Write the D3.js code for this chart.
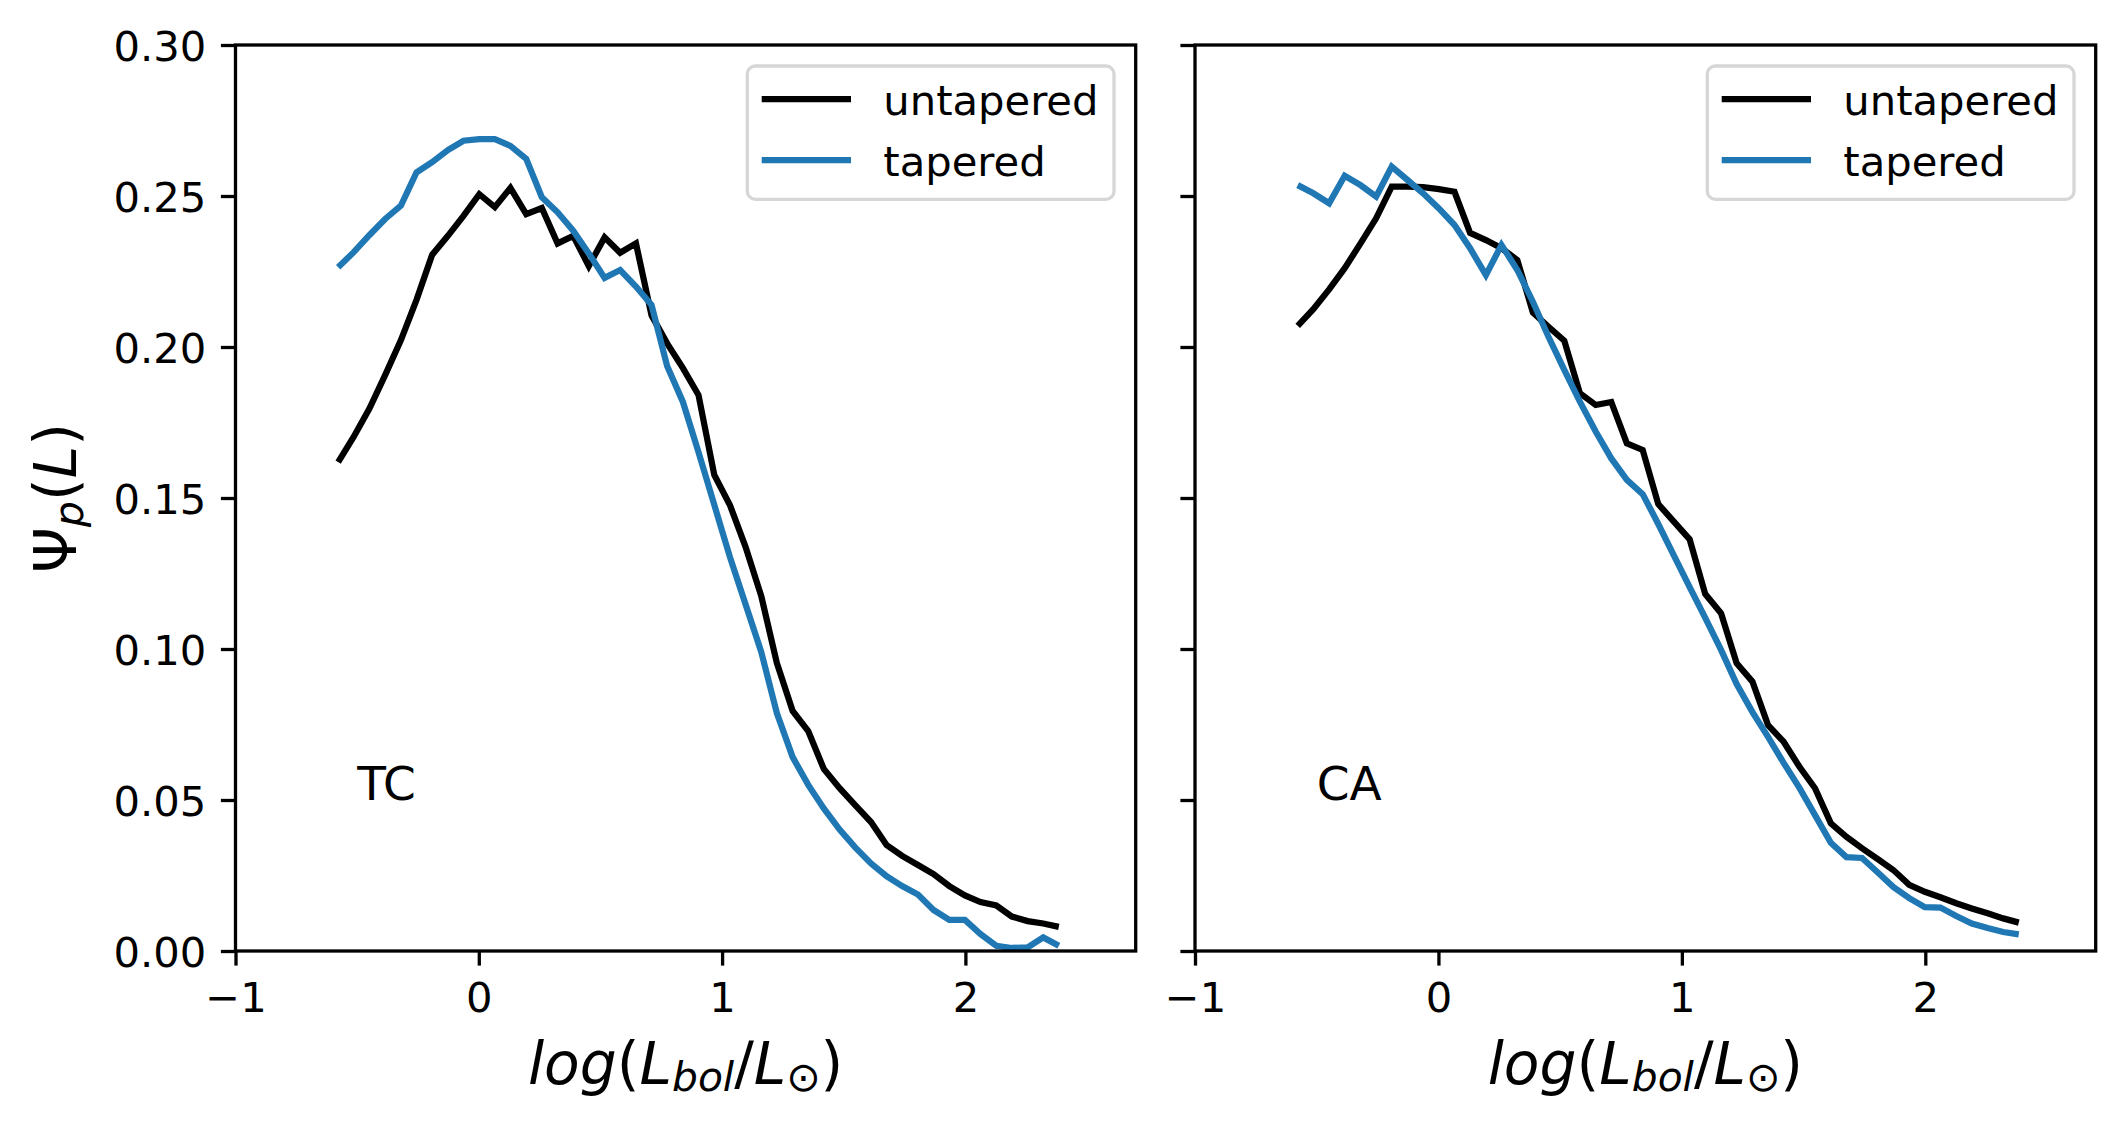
<!DOCTYPE html>
<html>
<head>
<meta charset="utf-8">
<script src="https://cdn.jsdelivr.net/npm/d3@7"></script>
<style>
body{margin:0;background:#fff;}
svg{display:block;font-family:"DejaVu Sans",sans-serif;}
</style>
</head>
<body>
<svg id="chart" width="2128" height="1128"></svg>
<script>
// bin centres, log(Lbol/Lsun)
var logL = [-0.578,-0.514,-0.449,-0.385,-0.320,-0.256,-0.192,-0.127,-0.063,0.002,
    0.066,0.130,0.195,0.259,0.324,0.388,0.452,0.517,0.581,0.646,
    0.710,0.774,0.839,0.903,0.968,1.032,1.096,1.161,1.225,1.290,
    1.354,1.418,1.483,1.547,1.612,1.676,1.740,1.805,1.869,1.934,
    1.998,2.062,2.127,2.191,2.256,2.320,2.384];

var tcUntapered = [0.1619,0.1703,0.1797,0.1907,0.2023,0.2156,0.2305,0.2368,0.2434,0.2506,
    0.2463,0.2527,0.2440,0.2460,0.2343,0.2368,0.2268,0.2363,0.2312,0.2343,
    0.2105,0.2012,0.1930,0.1841,0.1576,0.1477,0.1339,0.1175,0.0954,0.0795,
    0.0728,0.0603,0.0539,0.0483,0.0427,0.0351,0.0315,0.0285,0.0255,0.0215,
    0.0184,0.0162,0.0151,0.0114,0.0099,0.0091,0.0080];
var tcTapered = [0.2264,0.2314,0.2371,0.2424,0.2468,0.2578,0.2612,0.2652,0.2683,0.2688,
    0.2688,0.2666,0.2623,0.2496,0.2446,0.2385,0.2310,0.2229,0.2255,0.2200,
    0.2139,0.1937,0.1818,0.1652,0.1477,0.1305,0.1149,0.0990,0.0788,0.0642,
    0.0550,0.0472,0.0402,0.0343,0.0290,0.0248,0.0215,0.0187,0.0136,0.0103,
    0.0103,0.0056,0.0017,0.0010,0.0012,0.0045,0.0017];
var caUntapered = [0.2070,0.2125,0.2191,0.2261,0.2343,0.2426,0.2531,0.2531,0.2529,0.2523,
    0.2514,0.2378,0.2354,0.2327,0.2288,0.2114,0.2067,0.2021,0.1847,0.1808,
    0.1818,0.1681,0.1659,0.1480,0.1421,0.1363,0.1182,0.1118,0.0953,0.0892,
    0.0748,0.0693,0.0610,0.0539,0.0423,0.0378,0.0340,0.0304,0.0268,0.0219,
    0.0196,0.0178,0.0158,0.0141,0.0125,0.0108,0.0094];
var caTapered = [0.2536,0.2509,0.2476,0.2567,0.2536,0.2498,0.2597,0.2553,0.2509,0.2459,
    0.2404,0.2327,0.2238,0.2338,0.2255,0.2150,0.2034,0.1924,0.1819,0.1720,
    0.1631,0.1560,0.1513,0.1414,0.1308,0.1205,0.1103,0.0997,0.0884,0.0791,
    0.0709,0.0623,0.0540,0.0450,0.0358,0.0311,0.0308,0.0260,0.0212,0.0175,
    0.0145,0.0144,0.0116,0.0091,0.0076,0.0063,0.0055];

var seriesNames = ["untapered", "tapered"];
var seriesColors = ["#000000", "#1f77b4"];
var panelLabels = ["TC", "CA"];
var xTicks = [-1, 0, 1, 2];
var xTickLabels = ["\u22121", "0", "1", "2"];
var yTicks = [0, 0.05, 0.10, 0.15, 0.20, 0.25, 0.30];
var yTickLabels = ["0.00", "0.05", "0.10", "0.15", "0.20", "0.25", "0.30"];

var svg = d3.select("#chart");
var plotTop = 45, plotBottom = 951;
var tickLen = 14.6, spineW = 3.3, lineW = 6.25, tickFont = 41.7, labelFont = 58.3;

var y = d3.scaleLinear().domain([0, 0.30]).range([plotBottom, plotTop]);

function draw_panel(left, right, series, label, showYLabels){
    var g = svg.append("g");
    var x = d3.scaleLinear().domain([-1, 2.7]).range([left, right]);

    var line = d3.line()
        .x(function(d, i){ return x(logL[i]); })
        .y(function(d){ return y(d); });

    for(var s = 0; s < series.length; s++){
        g.append("path")
            .attr("d", line(series[s]))
            .attr("fill", "none")
            .attr("stroke", seriesColors[s])
            .attr("stroke-width", lineW)
            .attr("stroke-linejoin", "miter")
            .attr("stroke-linecap", "butt");
    }

    // axes
    var xAxis = d3.axisBottom(x)
        .tickValues(xTicks)
        .tickFormat(function(d, i){ return xTickLabels[i]; })
        .tickSizeInner(tickLen).tickSizeOuter(0).tickPadding(16.5);
    var gx = g.append("g").attr("transform", "translate(0," + plotBottom + ")").call(xAxis);

    var yAxis = d3.axisLeft(y)
        .tickValues(yTicks)
        .tickFormat(function(d, i){ return showYLabels ? yTickLabels[i] : ""; })
        .tickSizeInner(tickLen).tickSizeOuter(0).tickPadding(14.6);
    var gy = g.append("g").attr("transform", "translate(" + left + ",0)").call(yAxis);
    gy.selectAll("text").attr("dy", "0.365em");

    [gx, gy].forEach(function(a){
        a.select(".domain").remove();
        a.selectAll("line").attr("stroke", "#000").attr("stroke-width", spineW);
        a.selectAll("text")
            .attr("fill", "#000")
            .style("font-family", "DejaVu Sans")
            .style("font-size", tickFont + "px");
    });

    // spines
    g.append("rect")
        .attr("x", left).attr("y", plotTop)
        .attr("width", right - left).attr("height", plotBottom - plotTop)
        .attr("fill", "none").attr("stroke", "#000")
        .attr("stroke-width", spineW);

    // panel label
    g.append("text")
        .attr("x", x(-0.5)).attr("y", y(0.05))
        .style("font-size", "47px")
        .text(label);

    // legend
    var bw = 366.7, bh = 133.3;
    var bx = right - 21.7 - bw, by = plotTop + 21;
    var lg = g.append("g").attr("transform", "translate(" + bx + "," + by + ")");
    lg.append("rect")
        .attr("width", bw).attr("height", bh)
        .attr("rx", 8).attr("ry", 8)
        .attr("fill", "rgba(255,255,255,0.8)")
        .attr("stroke", "#d6d6d6").attr("stroke-width", spineW);
    var rowY = [33, 94];
    for(var k = 0; k < seriesNames.length; k++){
        lg.append("line")
            .attr("x1", 14.4).attr("x2", 103.7)
            .attr("y1", rowY[k]).attr("y2", rowY[k])
            .attr("stroke", seriesColors[k]).attr("stroke-width", lineW);
        lg.append("text")
            .attr("x", 136).attr("y", rowY[k] + 15.5)
            .style("font-size", tickFont + "px")
            .text(seriesNames[k]);
    }

    // x label: log(L_bol / L_sun)
    var xl = g.append("text")
        .attr("x", (left + right) / 2).attr("y", 1084)
        .attr("text-anchor", "middle")
        .style("font-size", labelFont + "px");
    xl.append("tspan").style("font-style", "italic").text("log");
    xl.append("tspan").text("(");
    xl.append("tspan").style("font-style", "italic").text("L");
    xl.append("tspan").style("font-style", "italic").style("font-size", "40.8px").attr("dy", 7).text("bol");
    xl.append("tspan").attr("dy", -7).text("/");
    xl.append("tspan").style("font-style", "italic").text("L");
    xl.append("tspan").style("font-size", "40.8px").attr("dy", 7).text("\u2299");
    xl.append("tspan").attr("dy", -7).text(")");
}

draw_panel(235.5, 1135.7, [tcUntapered, tcTapered], panelLabels[0], true);
draw_panel(1195, 2095.7, [caUntapered, caTapered], panelLabels[1], false);

// shared y label
var yl = svg.append("text")
    .attr("transform", "translate(75.6," + ((plotTop + plotBottom) / 2) + ") rotate(-90)")
    .attr("text-anchor", "middle")
    .style("font-size", labelFont + "px");
yl.append("tspan").text("\u03a8");
yl.append("tspan").style("font-style", "italic").style("font-size", "40.8px").attr("dy", 7).text("p");
yl.append("tspan").attr("dy", -7).text("(");
yl.append("tspan").style("font-style", "italic").text("L");
yl.append("tspan").text(")");
</script>
</body>
</html>
